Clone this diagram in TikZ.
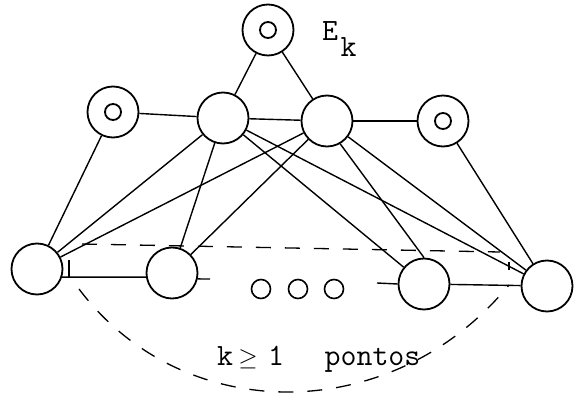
\documentclass[tikz,border=0pt]{standalone}
\begin{document}
\begin{tikzpicture}[x=1pt,y=-1pt,
  vertex/.style={circle,draw,line width=1.8pt,minimum size=51pt,inner sep=0pt},
  ringvertex/.style={vertex,path picture={\draw[line width=1.8pt] (path picture bounding box.center) circle (8pt);}},
  edge/.style={line width=1.4pt},
  dashedge/.style={line width=1.3pt,dash pattern=on 15pt off 14pt},
  dot/.style={circle,draw,line width=1.6pt,minimum size=19pt,inner sep=0pt},
  lab/.style={font=\fontsize{31}{31}\selectfont\ttfamily,inner sep=0pt,anchor=base}]
\useasboundingbox (0,0) rectangle (581,395);

% top vertex and its label
\node[ringvertex] (E) at (268,30) {};
\node[lab] (Elab) at (330,41) {E};
\node[lab] (klab) at (348.5,57) {k};

% middle row
\node[ringvertex] (L) at (113,112) {};
\node[vertex] (ML) at (223,118) {};
\node[vertex] (MR) at (327,121) {};
\node[ringvertex] (R) at (443,121) {};

% bottom row
\node[vertex] (B1) at (37,269) {};
\node[vertex] (B2) at (172,273) {};
\node[vertex] (B3) at (424,284) {};
\node[vertex] (B4) at (547,286) {};

% ellipsis dots
\node[dot] (d1) at (261,289) {};
\node[dot] (d2) at (298,289) {};
\node[dot] (d3) at (334,289) {};

% edges of the top and middle rows
\draw[edge] (E) -- (ML);
\draw[edge] (E) -- (MR);
\draw[edge] (L) -- (ML);
\draw[edge] (ML) -- (MR);
\draw[edge] (MR) -- (R);

% edges down to the bottom row
\draw[edge] (L) -- (B1);
\draw[edge] (ML) -- (B1);
\draw[edge] (ML) -- (B2);
\draw[edge] (ML) -- (B3);
\draw[edge] (ML) -- (B4);
\draw[edge] (MR) -- (B1);
\draw[edge] (MR) -- (B2);
\draw[edge] (MR.-60) -- (B3.north);
\draw[edge] (MR) -- (B4);
\draw[edge] (R) -- (B4);

% bottom row path with the gap for the dots
\coordinate (s2) at (210,279);
\coordinate (s3) at (377,283);
\draw[edge] (B1.-18) -- (B2.189);
\draw[edge] (B2.-13) -- (s2);
\draw[edge] (s3) -- (B3.west);
\draw[edge] (B3) -- (B4);

% end marks of the bracketed range
\coordinate (t1a) at (69,260);
\coordinate (t1b) at (69,277);
\coordinate (t4a) at (509,262);
\coordinate (t4b) at (509,270);
\draw[edge] (t1a) -- (t1b);
\draw[edge] (t4a) -- (t4b);

% dashed range markers
\coordinate (h1) at (82,244);
\coordinate (h2) at (500,252);
\draw[dashedge] (h1) -- (h2);
\coordinate (a1) at (79,289);
\coordinate (a2) at (509,285);
\draw[dashedge] (a1) .. controls (183,427) and (392,427) .. (a2);

% range label
\node[lab] (kk) at (225,365) {k};
\node[lab] (ge) at (248,365) {$\geq$};
\node[lab] (one) at (276,365) {1};
\node[lab] (pt) at (372.5,365) {pontos};
\end{tikzpicture}
\end{document}
